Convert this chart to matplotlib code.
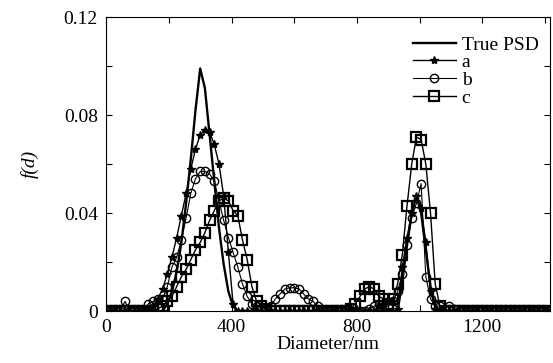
import numpy as np
import matplotlib
matplotlib.use("Agg")
import matplotlib.pyplot as plt

plt.rcParams['font.family'] = ['Liberation Serif', 'DejaVu Serif']

# diameter grid (nm), 15 nm step
diameter = np.arange(0, 1411, 15)

# f(d) values, one per grid point
true_psd = [
    0, 0, 0, 0, 0, 0, 0, 0, 0, 0, 0, 0,                     # 0-165
    0.0, 0.003, 0.008, 0.016, 0.028, 0.044, 0.062, 0.082,    # 180-285
    0.099, 0.091, 0.072, 0.053, 0.034, 0.019, 0.008, 0.002,  # 300-405
    0, 0, 0, 0, 0, 0, 0, 0, 0, 0, 0, 0, 0, 0, 0, 0,         # 420-645
    0, 0, 0, 0, 0, 0, 0, 0, 0, 0, 0, 0, 0, 0, 0, 0, 0, 0,   # 660-915
    0.0, 0.012, 0.027, 0.040, 0.047, 0.040, 0.025, 0.010,    # 930-1035
    0.002, 0.0,                                              # 1050-1065
    0, 0, 0, 0, 0, 0, 0, 0, 0, 0, 0, 0, 0, 0, 0, 0, 0, 0, 0, 0, 0, 0, 0,  # 1080-1410
]
series_a = [
    0, 0, 0, 0, 0, 0, 0, 0, 0,                               # 0-120
    0.001, 0.002, 0.005, 0.009, 0.015, 0.022, 0.030, 0.039,  # 135-240
    0.048, 0.058, 0.066, 0.072, 0.074, 0.073, 0.068, 0.060,  # 255-360
    0.047, 0.024, 0.003,                                     # 375-405
    0, 0, 0, 0, 0, 0, 0, 0, 0, 0, 0, 0, 0, 0, 0, 0,         # 420-645
    0, 0, 0, 0, 0, 0, 0, 0, 0, 0, 0, 0, 0, 0,               # 660-855
    0.002, 0.003, 0.004, 0.004, 0.001,                       # 870-930
    0.018, 0.030, 0.040, 0.047, 0.042, 0.028, 0.008, 0.001,  # 945-1050
    0, 0, 0, 0, 0, 0, 0, 0, 0, 0, 0, 0, 0, 0, 0, 0, 0, 0, 0, 0, 0, 0, 0, 0,  # 1065-1410
]
series_b = [
    0, 0, 0, 0, 0.004, 0, 0, 0, 0,                           # 0-120
    0.003, 0.004, 0.005, 0.005, 0.010, 0.018, 0.022, 0.029,  # 135-240
    0.038, 0.048, 0.054, 0.057, 0.057, 0.056, 0.053, 0.045,  # 255-360
    0.037, 0.030, 0.024, 0.018, 0.011, 0.006, 0.003, 0.002,  # 375-480
    0.001, 0.001, 0.002, 0.005, 0.007, 0.009, 0.0095,        # 495-585
    0.0095, 0.009, 0.007, 0.005, 0.004, 0.002, 0.0,          # 600-690
    0, 0, 0, 0, 0, 0, 0, 0, 0,                               # 705-825
    0.001, 0.002, 0.003, 0.002, 0.002, 0.004,                # 840-915
    0.008, 0.015, 0.027, 0.038, 0.044, 0.052, 0.014, 0.005,  # 930-1035
    0.002, 0.002, 0.001, 0.002, 0.001,                       # 1050-1110
    0, 0, 0, 0, 0, 0, 0, 0, 0, 0, 0, 0, 0, 0, 0, 0, 0, 0, 0, 0,  # 1125-1410
]
series_c = [
    0, 0, 0, 0, 0, 0, 0, 0, 0, 0, 0,                         # 0-150
    0.001, 0.002, 0.004, 0.006, 0.010, 0.014, 0.017, 0.021,  # 165-270
    0.025, 0.028, 0.032, 0.037, 0.041, 0.045, 0.046, 0.045,  # 285-390
    0.041, 0.039, 0.029, 0.021, 0.010, 0.004, 0.002, 0.001,  # 405-510
    0, 0, 0, 0, 0, 0, 0, 0, 0, 0, 0, 0, 0, 0, 0, 0, 0,      # 525-765
    0.001, 0.003, 0.006, 0.009, 0.010, 0.009, 0.006, 0.005,  # 780-885
    0.003, 0.005,                                            # 900-915
    0.011, 0.023, 0.043, 0.060, 0.071, 0.070, 0.060, 0.040,  # 930-1035
    0.011, 0.002,                                            # 1050-1065
    0, 0, 0, 0, 0, 0, 0, 0, 0, 0, 0, 0, 0, 0, 0, 0, 0, 0, 0, 0, 0, 0, 0,  # 1080-1410
]

x_ticks = [0, 400, 800, 1200]
y_ticks = [0, 0.04, 0.08, 0.12]
y_tick_labels = ['0', '0.04', '0.08', '0.12']

fig = plt.figure(figsize=(5.53, 3.63), dpi=100)
ax = fig.add_axes([0.192, 0.143, 0.803, 0.81])

ax.plot(diameter, true_psd, color='black', lw=1.7, label='True PSD', zorder=5)
ax.plot(diameter, series_a, color='black', lw=1.0, marker='*', ms=6,
        label='a', zorder=4)
ax.plot(diameter, series_b, color='black', lw=0.8, marker='o', ms=6,
        mfc='none', mew=1.0, label='b', zorder=3)
ax.plot(diameter, series_c, color='black', lw=1.0, marker='s', ms=7,
        mfc='none', mew=1.6, label='c', zorder=2)

ax.set_xlim(0, 1417)
ax.set_ylim(0, 0.12)
ax.set_xticks(x_ticks)
ax.set_xticks(np.arange(200, 1401, 400), minor=True)
ax.set_yticks(y_ticks)
ax.set_yticklabels(y_tick_labels)
ax.set_yticks([0.02, 0.06, 0.10], minor=True)
ax.tick_params(which='both', direction='in', top=True, right=True,
               length=4, width=0.8, labelsize=14, pad=6)
ax.set_xlabel('Diameter/nm', fontsize=14, labelpad=0)
ax.set_ylabel('f(d)', fontsize=14, style='italic', labelpad=18)

ax.legend(loc='upper right', bbox_to_anchor=(1.0, 0.975), frameon=False,
          fontsize=14, handlelength=2.2, labelspacing=0.0,
          handletextpad=0.3, borderaxespad=0.2)

fig.savefig('out.png', dpi=100)
